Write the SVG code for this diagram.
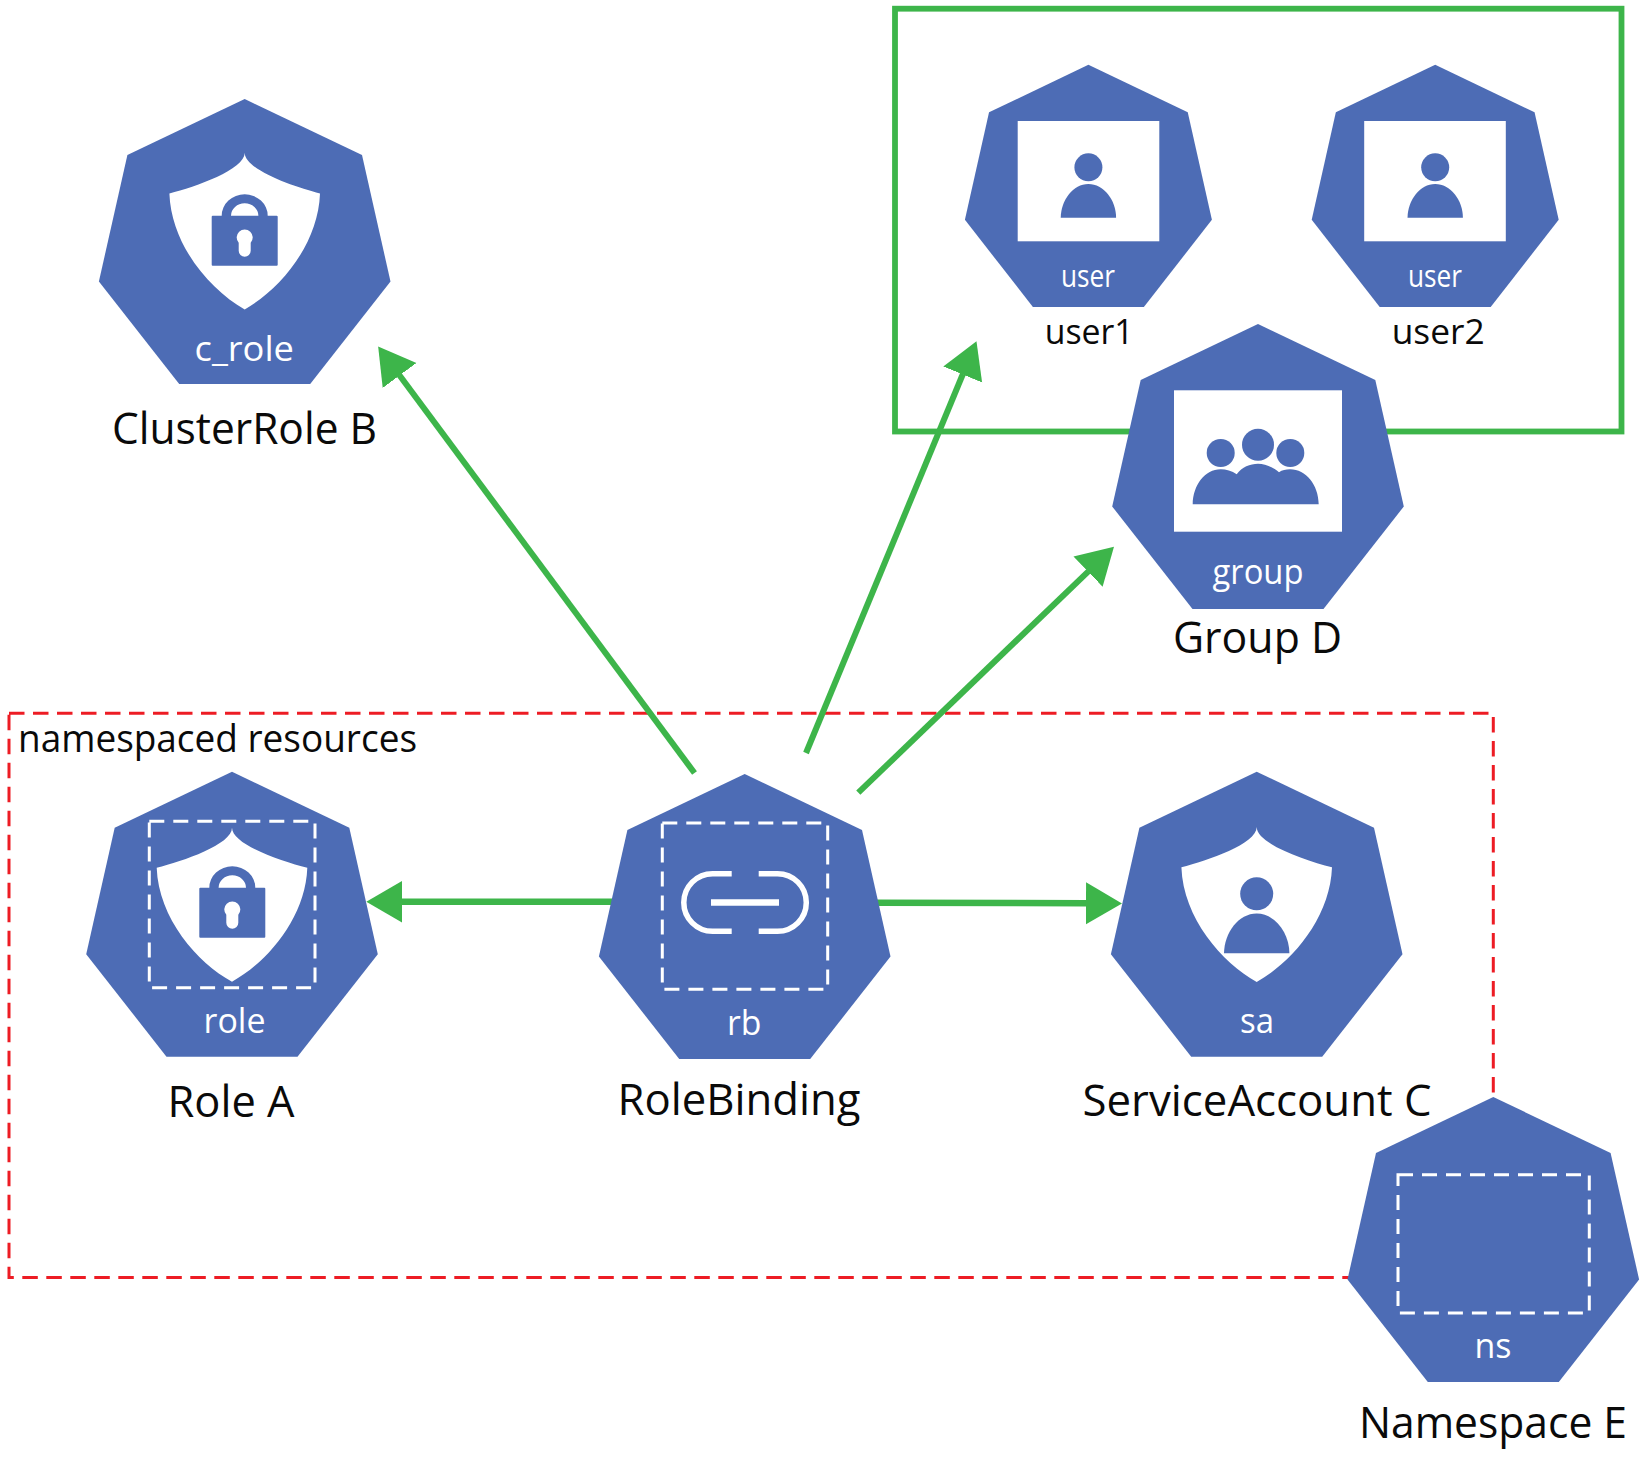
<svg xmlns="http://www.w3.org/2000/svg" xmlns:xlink="http://www.w3.org/1999/xlink" width="1647" height="1457" viewBox="0 0 1647 1457">
<style>
text{font-family:"Open Sans","Noto Sans","Liberation Sans",sans-serif}
.big{font-size:44px;fill:#0a0a0a}
.mid{font-size:35px;fill:#0a0a0a}
.ns{font-size:38px;fill:#0a0a0a}
.in{font-size:34px;fill:#fff}
.hept{fill:#4d6cb5}
.dash{fill:none;stroke:#fff;stroke-width:3;stroke-dasharray:15 9}
.conn{fill:none;stroke:#3db54a;stroke-width:6;marker-end:url(#head)}
.conn2{fill:none;stroke:#3db54a;stroke-width:6.5;marker-end:url(#head)}
.blue{fill:#4d6cb5}
.white{fill:#fff}
</style>
<defs>
<marker id="head" markerUnits="userSpaceOnUse" markerWidth="37" markerHeight="43" refX="0.5" refY="21" orient="auto" viewBox="0 0 37 42"><path d="M0 0L36 21L0 42Z" fill="#3db54a"/></marker>
<polygon id="hept" class="hept" points="0,0 117.3,56 145.8,182.5 65.5,285 -65.5,285 -145.8,182.5 -117.3,56"/>
<path id="shield" class="white" d="M0 0C0 17 -49 34 -75.3 40.7C-73.5 92 -35 137 0 156.7C35 137 73.5 92 75.3 40.7C49 34 0 17 0 0Z"/>
<path id="lock" class="blue" fill-rule="evenodd" d="M-33 1Q-33 0 -32 0H-23A23 21.4 0 0 1 23 0H32Q33 0 33 1V49Q33 50 32 50H-32Q-33 50 -33 49ZM-13.7 0A13.7 12.4 0 0 1 13.7 0ZM-6 27A8 8 0 1 1 6 27V35A6 6 0 0 1 -6 35Z"/>
<g id="person" class="blue"><circle cx="0" cy="-50.4" r="14"/><path d="M-27.7 0C-27.4 -17.7 -15.3 -33.7 0 -33.7C15.2 -33.7 27.7 -17.7 27.7 0Z"/></g>
</defs>

<g id="boxes">
<rect id="user-group-box" x="895" y="8.7" width="726.5" height="422.8" fill="none" stroke="#3db54a" stroke-width="5.8"/>
<rect id="namespace-box" x="9" y="713.3" width="1484.3" height="564.2" fill="none" stroke="#ed1c24" stroke-width="3" stroke-dasharray="15.5 8.5"/>
<text class="ns" x="18" y="751.7" textLength="399" lengthAdjust="spacingAndGlyphs">namespaced resources</text>
</g>

<g id="connectors">
<line class="conn" x1="694.5" y1="773" x2="399.3" y2="375"/>
<line class="conn" x1="806" y1="753" x2="962.9" y2="374"/>
<line class="conn" x1="858.3" y1="792.7" x2="1088.4" y2="571.3"/>
<line class="conn2" x1="615" y1="901.7" x2="401.8" y2="901.7"/>
<line class="conn2" x1="875" y1="902.7" x2="1086.5" y2="903.3"/>
</g>

<g id="clusterrole-b">
<use href="#hept" transform="translate(244.7 99)"/>
<use href="#shield" transform="translate(244.7 152.7)"/>
<use href="#lock" transform="translate(244.7 215.7)"/>
<text class="in" x="194.5" y="361" textLength="99.5" lengthAdjust="spacingAndGlyphs">c_role</text>
<text class="big" x="112" y="444" textLength="265" lengthAdjust="spacingAndGlyphs">ClusterRole B</text>
</g>

<g id="user1">
<use href="#hept" transform="translate(1088.4 64.7) scale(.847 .85)"/>
<rect class="white" x="1017.7" y="121" width="141.6" height="120.3"/>
<use href="#person" transform="translate(1088.4 217.7)"/>
<text class="in" x="1061" y="286.7" textLength="54" lengthAdjust="spacingAndGlyphs" style="font-size:31px">user</text>
<text class="mid" x="1044.7" y="344" textLength="89" lengthAdjust="spacingAndGlyphs">user1</text>
</g>

<g id="user2">
<use href="#hept" transform="translate(1435.2 64.7) scale(.847 .85)"/>
<rect class="white" x="1364.2" y="121" width="141.6" height="120.3"/>
<use href="#person" transform="translate(1435.2 217.7)"/>
<text class="in" x="1408" y="286.7" textLength="54" lengthAdjust="spacingAndGlyphs" style="font-size:31px">user</text>
<text class="mid" x="1391.7" y="344" textLength="93" lengthAdjust="spacingAndGlyphs">user2</text>
</g>

<g id="group-d">
<use href="#hept" transform="translate(1258 324)"/>
<rect class="white" x="1174" y="390.3" width="168" height="141.4"/>
<g class="blue">
<circle cx="1258" cy="444.7" r="16"/><circle cx="1220.7" cy="453" r="14"/><circle cx="1290.3" cy="453" r="14"/>
<path d="M1192.7 504.3C1193 485 1205 469.3 1220.7 469.3C1226 469.3 1232 471 1236.7 474.3C1242 467 1250 463.7 1258 463.7C1265 463.7 1273 467 1279 472.3C1282 470 1286 469.3 1290 469.3C1306 469.3 1318.5 485 1318.7 504.3Z"/>
</g>
<text class="in" x="1212.5" y="584" textLength="91" lengthAdjust="spacingAndGlyphs">group</text>
<text class="big" x="1173" y="653.3" textLength="169" lengthAdjust="spacingAndGlyphs">Group D</text>
</g>

<g id="role-a">
<use href="#hept" transform="translate(232 771.7)"/>
<rect class="dash" x="149.3" y="821.3" width="165.7" height="166.4"/>
<use href="#shield" transform="translate(232 827.7) scale(1 .983)"/>
<use href="#lock" transform="translate(232.3 887.7)"/>
<text class="in" x="203.5" y="1033.3" textLength="62" lengthAdjust="spacingAndGlyphs">role</text>
<text class="big" x="167.5" y="1117.3" textLength="127" lengthAdjust="spacingAndGlyphs">Role A</text>
</g>

<g id="rolebinding">
<use href="#hept" transform="translate(744.7 774)"/>
<rect class="dash" x="662.3" y="823" width="165.4" height="166.3"/>
<g fill="none" stroke="#fff" stroke-width="5.5">
<path d="M731.7 873.7H712.6A28.8 28.8 0 0 0 712.6 931.3H731.7"/>
<path d="M758.7 873.7H777.5A28.8 28.8 0 0 1 777.5 931.3H758.7"/>
<path d="M711 902.5H779" stroke-width="6.4"/>
</g>
<text class="in" x="727" y="1035" textLength="34.5" lengthAdjust="spacingAndGlyphs">rb</text>
<text class="big" x="617.5" y="1114.5" textLength="243" lengthAdjust="spacingAndGlyphs">RoleBinding</text>
</g>

<g id="serviceaccount-c">
<use href="#hept" transform="translate(1256.7 771.7)"/>
<use href="#shield" transform="translate(1256.7 827) scale(1 .989)"/>
<use href="#person" transform="translate(1256.7 953.3) scale(1.18)"/>
<text class="in" x="1240" y="1033.3" textLength="34" lengthAdjust="spacingAndGlyphs">sa</text>
<text class="big" x="1082.5" y="1116" textLength="349" lengthAdjust="spacingAndGlyphs">ServiceAccount C</text>
</g>

<g id="namespace-e">
<use href="#hept" transform="translate(1493.3 1097)"/>
<rect class="dash" x="1398" y="1174.7" width="191.3" height="138.3"/>
<text class="in" x="1474.5" y="1358.3" textLength="37" lengthAdjust="spacingAndGlyphs">ns</text>
<text class="big" x="1359" y="1437.7" textLength="268" lengthAdjust="spacingAndGlyphs">Namespace E</text>
</g>
</svg>
